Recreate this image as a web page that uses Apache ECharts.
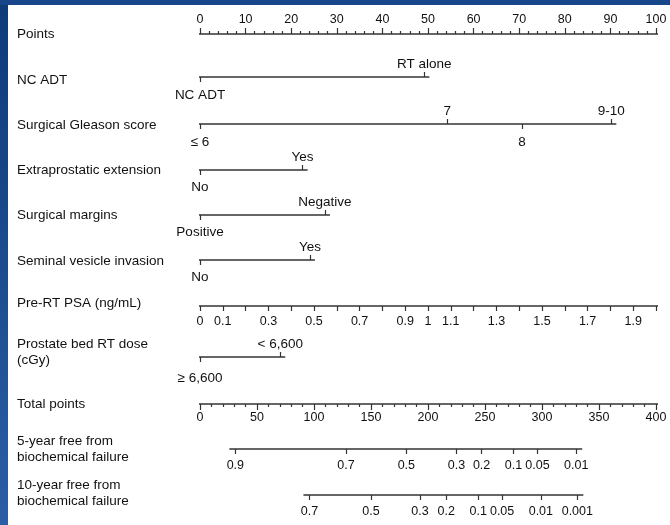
<!DOCTYPE html>
<html><head><meta charset="utf-8">
<script src="https://cdn.jsdelivr.net/npm/echarts@6/dist/echarts.min.js"></script>
<style>html,body{margin:0;padding:0;background:#fff}#c{width:670px;height:525px}</style>
</head><body><div id="c"></div>
<script>
// ---------- data ----------
const rowTitles = ['Points','NC ADT','Surgical Gleason score','Extraprostatic extension','Surgical margins',
  'Seminal vesicle invasion','Pre-RT PSA (ng/mL)','Prostate bed RT dose\n(cGy)','Total points',
  '5-year free from\nbiochemical failure','10-year free from\nbiochemical failure'];

const pointsMin = 0, pointsMax = 100, pointsStep = 10;

const ncAdtLabels = ['NC ADT','RT alone'];
const ncAdtPoints = [0, 49.2];
const ncAdtSide = ['bottom','top'];

const gleasonLabels = ['≤ 6','7','8','9-10'];
const gleasonPoints = [0, 54.2, 70.6, 90.2];
const gleasonSide = ['bottom','top','bottom','top'];

const epeLabels = ['No','Yes'];
const epePoints = [0, 22.5];
const epeSide = ['bottom','top'];

const marginLabels = ['Positive','Negative'];
const marginPoints = [0, 27.4];
const marginSide = ['bottom','top'];

const sviLabels = ['No','Yes'];
const sviPoints = [0, 24.1];
const sviSide = ['bottom','top'];

const psaMin = 0, psaMax = 2, psaStep = 0.1;
const psaLabels = [0, 0.1, 0.3, 0.5, 0.7, 0.9, 1, 1.1, 1.3, 1.5, 1.7, 1.9];

const doseLabels = ['≥ 6,600','< 6,600'];
const dosePoints = [0, 17.6];
const doseSide = ['bottom','top'];

const totalMin = 0, totalMax = 400, totalStep = 50;

const fiveYearLabels = ['0.9','0.7','0.5','0.3','0.2','0.1','0.05','0.01'];
const fiveYearTotals = [31, 128, 181, 225, 247, 275, 296, 330];

const tenYearLabels = ['0.7','0.5','0.3','0.2','0.1','0.05','0.01','0.001'];
const tenYearTotals = [96, 150, 193, 216, 244, 265, 299, 331];

// ---------- layout / style ----------
const GL = 200, GW = 456;
const LINE = '#333', TXT = '#111';
const FONT = 'Liberation Sans, Arial, Helvetica, sans-serif';
const titleY = [34, 80, 125, 170, 215, 261, 303, 336, 404, 433, 477];
const rowY = [34, 77, 124, 170, 215, 260, 306, 357, 404, 449, 495];
const bottomMargin = [0, 11, 11, 10, 10, 10, 0, 14];

const grids = [], xAxes = [], yAxes = [], series = [];

function addGrid(y) {
  grids.push({left: GL, width: GW, top: y - 1, height: 2});
  const gi = grids.length - 1;
  yAxes.push({type: 'value', gridIndex: gi, min: 0, max: 1, show: false});
  return gi;
}
function baseAxis(gi, pos, min, max) {
  return {type: 'value', gridIndex: gi, position: pos, offset: -1, min, max,
    axisLine: {show: false}, splitLine: {show: false},
    axisTick: {show: true, length: 5, lineStyle: {color: LINE, width: 1.2}},
    axisLabel: {color: TXT, fontFamily: FONT, fontSize: 12.5}};
}
function addLine(gi, xi, lo, hi) {
  series.push({type: 'line', xAxisIndex: xi, yAxisIndex: gi, data: [[lo, 0.5], [hi, 0.5]],
    symbol: 'none', clip: false, silent: true, animation: false,
    lineStyle: {color: LINE, width: 1.5}});
}
function catRow(r, labels, pts, sides) {
  const gi = addGrid(rowY[r]);
  ['top', 'bottom'].forEach(side => {
    const vals = pts.filter((p, i) => sides[i] === side);
    const ax = baseAxis(gi, side, pointsMin, pointsMax);
    ax.axisTick.customValues = vals;
    ax.axisLabel.customValues = vals;
    ax.axisLabel.fontSize = 13.5;
    ax.axisLabel.margin = side === 'top' ? 6 : bottomMargin[r];
    ax.axisLabel.formatter = v => labels[pts.findIndex(p => Math.abs(p - v) < 1e-6)];
    xAxes.push(ax);
  });
  const xi = xAxes.length - 1;
  const ppx = (pointsMax - pointsMin) / GW;
  addLine(gi, xi, Math.min(...pts) - 5 * ppx, Math.max(...pts) + 5 * ppx);
}

// Points axis
(function () {
  const gi = addGrid(rowY[0]);
  const ax = baseAxis(gi, 'top', pointsMin, pointsMax);
  ax.interval = pointsStep;
  ax.axisTick.length = 6;
  ax.axisLabel.margin = 8;
  ax.minorTick = {show: true, splitNumber: 5, length: 3, lineStyle: {color: LINE, width: 1.2}};
  xAxes.push(ax);
  const ppx = (pointsMax - pointsMin) / GW;
  addLine(gi, xAxes.length - 1, pointsMin - 7 * ppx, pointsMax + 5 * ppx);
})();

catRow(1, ncAdtLabels, ncAdtPoints, ncAdtSide);
catRow(2, gleasonLabels, gleasonPoints, gleasonSide);
catRow(3, epeLabels, epePoints, epeSide);
catRow(4, marginLabels, marginPoints, marginSide);
catRow(5, sviLabels, sviPoints, sviSide);

// PSA axis
(function () {
  const gi = addGrid(rowY[6]);
  const ax = baseAxis(gi, 'bottom', psaMin, psaMax);
  ax.interval = psaStep;
  ax.axisTick.length = 5;
  ax.axisLabel.customValues = psaLabels;
  ax.axisLabel.margin = 9;
  ax.axisLabel.formatter = v => String(+v.toFixed(2));
  xAxes.push(ax);
  const ppx = (psaMax - psaMin) / GW;
  addLine(gi, xAxes.length - 1, psaMin - 7 * ppx, psaMax + 5 * ppx);
})();

catRow(7, doseLabels, dosePoints, doseSide);

// Total points axis
(function () {
  const gi = addGrid(rowY[8]);
  const ax = baseAxis(gi, 'bottom', totalMin, totalMax);
  ax.interval = totalStep;
  ax.axisTick.length = 6;
  ax.axisLabel.margin = 7;
  ax.minorTick = {show: true, splitNumber: 5, length: 3, lineStyle: {color: LINE, width: 1.2}};
  xAxes.push(ax);
  const ppx = (totalMax - totalMin) / GW;
  addLine(gi, xAxes.length - 1, totalMin - 7 * ppx, totalMax + 5 * ppx);
})();

function probRow(r, labels, totals) {
  const gi = addGrid(rowY[r]);
  const ax = baseAxis(gi, 'bottom', totalMin, totalMax);
  ax.axisTick.customValues = totals;
  ax.axisTick.length = 5;
  ax.axisLabel.customValues = totals;
  ax.axisLabel.margin = 10;
  ax.axisLabel.formatter = v => labels[totals.findIndex(t => Math.abs(t - v) < 1e-6)];
  xAxes.push(ax);
  const ppx = (totalMax - totalMin) / GW;
  addLine(gi, xAxes.length - 1, Math.min(...totals) - 6 * ppx, Math.max(...totals) + 6 * ppx);
}
probRow(9, fiveYearLabels, fiveYearTotals);
probRow(10, tenYearLabels, tenYearTotals);

const graphics = [
  {type: 'rect', shape: {x: 0, y: 0, width: 8, height: 525}, style: {fill: new echarts.graphic.LinearGradient(0, 0, 1, 1, [{offset: 0, color: '#0e3a78'}, {offset: 1, color: '#2a5ea6'}])}, silent: true},
  {type: 'rect', shape: {x: 0, y: 0, width: 670, height: 5}, style: {fill: '#17468a'}, silent: true}
];
rowTitles.forEach((t, i) => {
  const multi = t.indexOf('\n') >= 0;
  graphics.push({type: 'text', x: 17, y: titleY[i], silent: true,
    style: {text: t, fill: TXT, font: '13.5px ' + FONT, verticalAlign: multi ? 'top' : 'middle', lineHeight: 16}});
});

const chart = echarts.init(document.getElementById('c'), null, {renderer: 'canvas'});
chart.setOption({animation: false, backgroundColor: '#fff', grid: grids, xAxis: xAxes, yAxis: yAxes, series, graphic: graphics});
</script></body></html>
